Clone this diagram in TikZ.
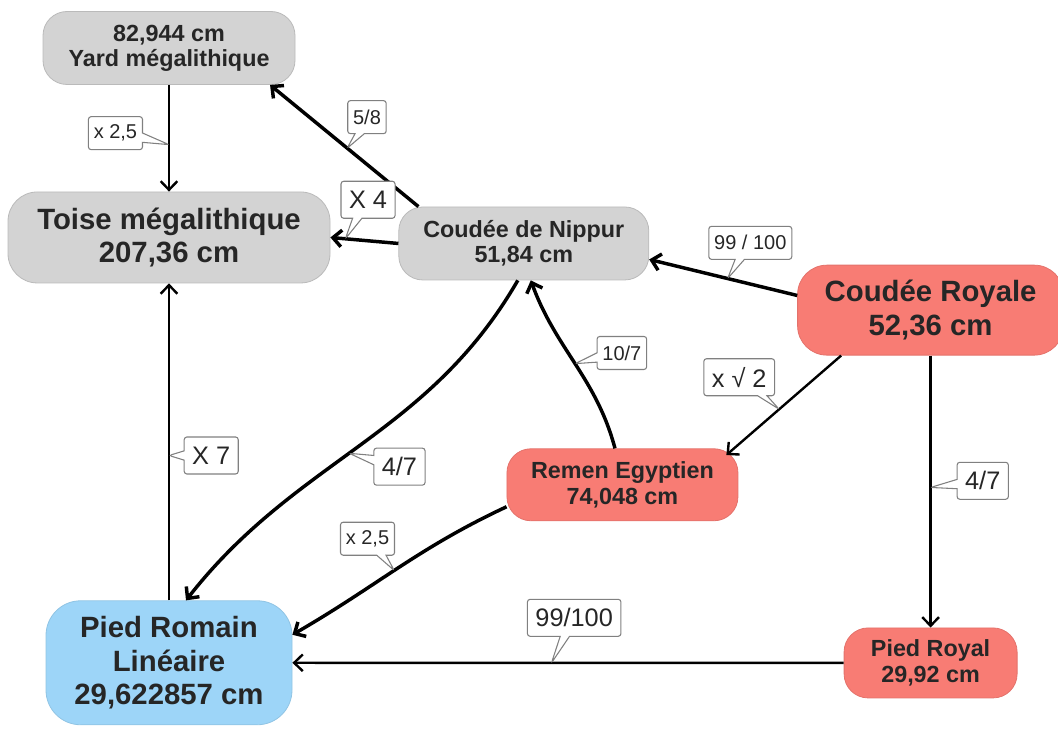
\documentclass[tikz,border=0pt]{standalone}
\usepackage{fontspec}
\setmainfont{Liberation Sans}
\usepackage{xcolor}
\usepackage{tikz}
\usetikzlibrary{positioning}
\usetikzlibrary{arrows.meta,shapes.callouts}
\definecolor{gris}{HTML}{D3D3D3}
\definecolor{saumon}{HTML}{F87C74}
\definecolor{bleu}{HTML}{9DD5F8}
\tikzset{%
  conv/.style = {-{Straight Barb[length=6.5pt,width=12.5pt]},line width=1.8pt},
  convfort/.style = {conv,line width=2.6pt},
  unite/.style = {rectangle,rounded corners=18pt,align=center,text=black!85,
        font=\bfseries\fontsize{17.5}{19}\selectfont,inner sep=2pt,
        line width=0.6pt},
  unitg/.style = {unite,rounded corners=22pt,
        font=\bfseries\fontsize{22}{25}\selectfont},
  grisn/.style = {fill=gris,draw=gris!88!black},
  saumn/.style = {fill=saumon,draw=saumon!92!black},
  bleun/.style = {fill=bleu,draw=bleu!92!black},
  lab/.style = {rectangle callout,draw=gray,fill=white,line width=0.8pt,
        rounded corners=2pt,callout pointer width=7pt,inner xsep=4pt,
        minimum height=24.75pt,text=black!85,font=\fontsize{15}{17}\selectfont},
  labg/.style = {lab,inner xsep=6pt,minimum height=27.75pt,
        font=\fontsize{19}{22}\selectfont}
}
\begin{document}
\begin{tikzpicture}[x=0.75pt,y=-0.75pt]
  \useasboundingbox (0,0) rectangle (1058,738);
  \node[unite,grisn,minimum width=189pt,minimum height=54.75pt] (yard) at (169,48) {82,944 cm\\Yard mégalithique};
  \node[unitg,grisn,minimum width=241.5pt,minimum height=68.25pt] (toise) [below=80pt of yard] {Toise mégalithique\\207,36 cm};
  \node[unitg,bleun,minimum width=184.5pt,minimum height=93pt,rounded corners=26pt] (romain) [below=237.75pt of toise] {Pied Romain\\Linéaire\\29,622857 cm};
  \node[unite,grisn,minimum width=187.5pt,minimum height=54.75pt] (nippur) [right=51pt of toise,yshift=-4.5pt] {Coudée de Nippur\\51,84 cm};
  \node[unitg,saumn,minimum width=199.5pt,minimum height=67.5pt] (royale) [right=111pt of nippur,yshift=-50pt] {Coudée Royale\\52,36 cm};
  \node[unite,saumn,minimum width=173.25pt,minimum height=54pt] (remen) [below=126pt of nippur,xshift=74pt] {Remen Egyptien\\74,048 cm};
  \node[unite,saumn,minimum width=129.75pt,minimum height=52.5pt] (proyal) [below=204pt of royale] {Pied Royal\\29,92 cm};

  \draw[conv] (yard) -- coordinate[pos=0.56] (p1) (toise);
  \draw[convfort] ([xshift=15pt]nippur.north west) -- coordinate[pos=0.48] (p2) ([xshift=-19pt]yard.south east);
  \draw[convfort] (nippur.west) -- coordinate[pos=0.78] (p3) (toise.east);
  \draw[convfort] ([yshift=11pt]royale.west) -- coordinate[pos=0.47] (p4) ([yshift=-12pt]nippur.east);
  \draw[convfort] ([xshift=-5.6pt]remen.north) to[out=105,in=-70] coordinate[pos=0.5] (p5) ([xshift=5.25pt]nippur.south);
  \draw[conv] ([xshift=33pt]royale.south west) -- coordinate[pos=0.54] (p6) ([xshift=-9pt,yshift=-5pt]remen.north east);
  \draw[conv] (royale) -- coordinate[pos=0.485] (p7) (proyal);
  \draw[conv] (proyal) -- coordinate[pos=0.53] (p8) (romain);
  \draw[conv] (romain) -- coordinate[pos=0.457] (p9) (toise);
  \draw[convfort] ([xshift=-4.5pt]nippur.south) to[out=-120,in=52] coordinate[pos=0.53] (p10) ([xshift=12.75pt]romain.north);
  \draw[convfort] ([yshift=-16.5pt]remen.west) to[out=205,in=30] coordinate[pos=0.52] (p11) ([yshift=21pt]romain.east);

  \node[lab,callout absolute pointer={(p1)}] (l1) [left=19.5pt of p1,yshift=8.6pt] {x 2,5};
  \node[lab,callout absolute pointer={(p2)}] (l2) [above right=10.5pt and 0pt of p2] {5/8};
  \node[labg,callout absolute pointer={(p3)}] (l3) [above=15pt of p3,xshift=17pt] {X 4};
  \node[lab,callout absolute pointer={(p4)}] (l4) [above=14pt of p4,xshift=17pt] {99 / 100};
  \node[lab,callout absolute pointer={(p5)}] (l5) [right=16pt of p5,yshift=8pt] {10/7};
  \node[labg,callout absolute pointer={(p6)}] (l6) [above=9.75pt of p6,xshift=-30pt] {x √ 2};
  \node[labg,callout absolute pointer={(p7)}] (l7) [right=19.5pt of p7,yshift=5pt] {4/7};
  \node[labg,callout absolute pointer={(p8)}] (l8) [above=19.5pt of p8,xshift=17pt] {99/100};
  \node[labg,callout absolute pointer={(p9)}] (l9) [right=11pt of p9] {X 7};
  \node[labg,callout absolute pointer={(p10)}] (l10) [right=18pt of p10,yshift=-10pt] {4/7};
  \node[lab,callout absolute pointer={(p11)}] (l11) [above=11pt of p11,xshift=-20pt] {x 2,5};
\end{tikzpicture}
\end{document}
